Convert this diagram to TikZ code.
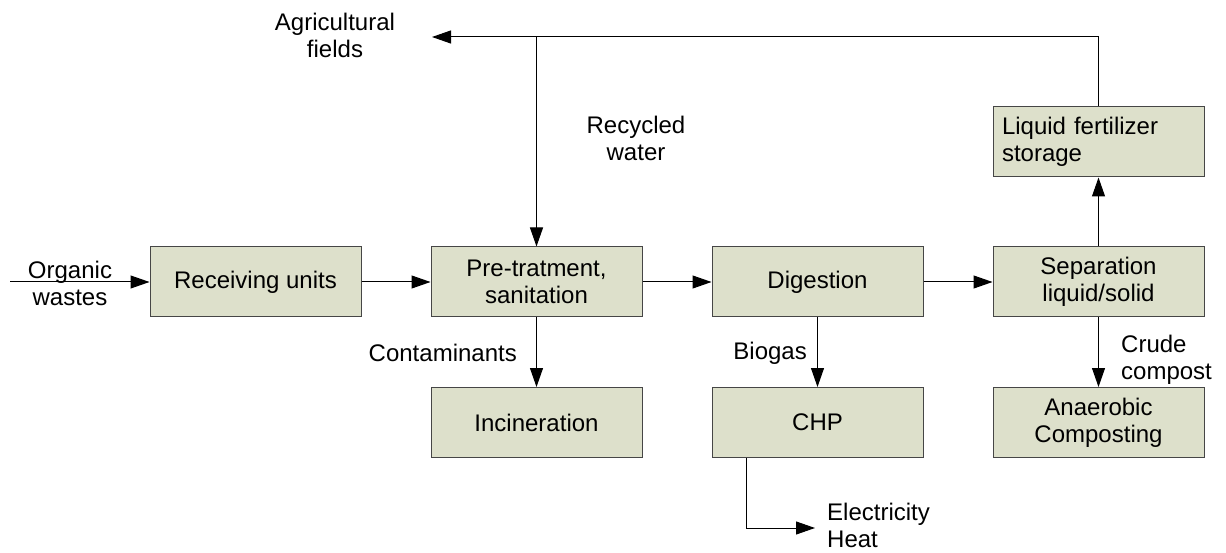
\documentclass[tikz,border=0pt]{standalone}
\usepackage{fontspec}
\setmainfont{Liberation Sans}
\usetikzlibrary{arrows.meta}
\definecolor{boxfill}{RGB}{221,224,203}
\definecolor{boxline}{RGB}{70,70,70}
\begin{document}
\begin{tikzpicture}[x=1pt,y=-1pt,
  every node/.style={font=\fontsize{24}{27}\selectfont},
  box/.style={draw=boxline,fill=boxfill,line width=1pt,minimum width=211pt,minimum height=70pt,inner sep=0pt,align=center},
  lbl/.style={inner sep=0pt,align=center},
  arr/.style={-{Triangle[length=19pt,width=13pt]},line width=1pt,black}]
\useasboundingbox (0,0) rectangle (1226,553);
\node[box] (recv) at (255.5,282) {Receiving units};
\node[box] (pre) at (536.5,282) {Pre-tratment,\\sanitation};
\node[box] (dig) at (817.5,282) {Digestion};
\node[box] (sep) at (1098.5,282) {Separation\\liquid/solid};
\node[box] (inc) at (536.5,422.5) {Incineration};
\node[box] (chp) at (817.5,422.5) {CHP};
\node[box] (comp) at (1098.5,422.5) {Anaerobic\\Composting};
\node[box,text width=193pt,align=left] (fert) at (1098.5,142) {Liquid fertilizer\\storage};

\coordinate (ow) at (10,282);
\coordinate (agr) at (432,37);
\coordinate (br) at (536.5,37);
\coordinate (eh) at (815,528);

\draw[arr] (ow) -- (recv.west);
\draw[arr] (recv.east) -- (pre.west);
\draw[arr] (pre.east) -- (dig.west);
\draw[arr] (dig.east) -- (sep.west);
\draw[arr] (sep.north) -- (fert.south);
\draw[arr] (fert.north) |- (agr);
\draw[arr] (br) -- (pre.north);
\draw[arr] (pre.south) -- (inc.north);
\draw[arr] (dig.south) -- (chp.north);
\draw[arr] (sep.south) -- (comp.north);
\draw[arr] ([xshift=35pt]chp.south west) |- (eh);

\node[lbl] (low) at (70,283) {Organic\\wastes};
\node[lbl] (lagr) at (335,35) {Agricultural\\fields};
\node[lbl] (lrw) at (636,138) {Recycled\\water};
\node[lbl,anchor=east] (lcon) at (517,353) {Contaminants};
\node[lbl,anchor=east] (lbio) at (807,353) {Biogas};
\node[lbl,anchor=west,align=left] (lcc) at (1121,360) {Crude\\compost};
\node[lbl,anchor=west,align=left] (leh) at (827,525) {Electricity\\Heat};
\end{tikzpicture}
\end{document}
